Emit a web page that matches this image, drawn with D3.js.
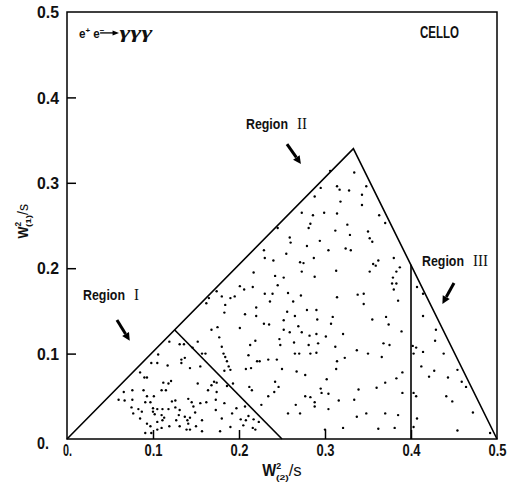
<!DOCTYPE html>
<html><head><meta charset="utf-8">
<script src="https://cdn.jsdelivr.net/npm/d3@7/dist/d3.min.js"></script>
<style>
body{margin:0;background:#fff;}
svg{display:block;}
</style></head>
<body><svg id="c" width="513" height="489"></svg>
<script>
// ---- data ----
const xTicks = [0, 0.1, 0.2, 0.3, 0.4, 0.5];
const yTicks = [0, 0.1, 0.2, 0.3, 0.4, 0.5];
const tickLabel = v => v === 0 ? "0." : v.toFixed(1);
const boundary = [[0, 0], [0.333, 0.34], [0.5, 0]];
const cutRegionI = [[0.125, 0.128], [0.25, 0]];
const cutRegionIII = [[0.4, 0], [0.4, 0.204]];
const events = [
[0.119,0.114],[0.131,0.111],[0.136,0.111],[0.152,0.114],[0.146,0.107],[0.157,0.100],[0.161,0.100],[0.106,0.099],
[0.098,0.089],[0.105,0.089],[0.117,0.086],[0.133,0.093],[0.137,0.095],[0.133,0.089],[0.143,0.083],[0.155,0.085],
[0.085,0.078],[0.090,0.072],[0.093,0.072],[0.121,0.068],[0.112,0.066],[0.118,0.065],[0.152,0.065],[0.171,0.067],
[0.174,0.066],[0.168,0.063],[0.164,0.057],[0.174,0.055],[0.066,0.055],[0.076,0.057],[0.089,0.057],[0.110,0.057],
[0.115,0.057],[0.093,0.050],[0.101,0.050],[0.060,0.046],[0.067,0.045],[0.076,0.046],[0.091,0.043],[0.097,0.043],
[0.126,0.045],[0.122,0.044],[0.141,0.047],[0.145,0.043],[0.162,0.043],[0.155,0.042],[0.173,0.046],[0.075,0.037],
[0.083,0.035],[0.100,0.036],[0.105,0.035],[0.100,0.032],[0.111,0.035],[0.118,0.035],[0.126,0.037],[0.131,0.034],
[0.147,0.038],[0.149,0.031],[0.077,0.030],[0.087,0.032],[0.102,0.029],[0.110,0.028],[0.113,0.025],[0.130,0.028],
[0.137,0.026],[0.143,0.025],[0.140,0.022],[0.085,0.024],[0.093,0.018],[0.097,0.015],[0.105,0.020],[0.111,0.022],
[0.119,0.015],[0.127,0.022],[0.131,0.015],[0.141,0.018],[0.150,0.015],[0.105,0.011],[0.110,0.013],[0.139,0.011],
[0.143,0.011],[0.157,0.022],[0.157,0.009],[0.173,0.034],[0.091,0.007],[0.098,0.007],
[0.184,0.157],[0.183,0.148],[0.220,0.154],[0.236,0.161],[0.263,0.161],[0.207,0.146],[0.220,0.144],[0.256,0.149],
[0.265,0.144],[0.279,0.151],[0.290,0.151],[0.309,0.143],[0.291,0.140],[0.229,0.135],[0.235,0.134],[0.252,0.139],
[0.269,0.132],[0.307,0.135],[0.175,0.131],[0.168,0.128],[0.201,0.130],[0.252,0.128],[0.259,0.125],[0.273,0.125],
[0.282,0.121],[0.290,0.123],[0.301,0.120],[0.321,0.123],[0.177,0.119],[0.247,0.117],[0.219,0.115],[0.213,0.110],
[0.264,0.113],[0.248,0.110],[0.281,0.110],[0.292,0.112],[0.312,0.108],[0.180,0.108],[0.182,0.100],[0.184,0.096],
[0.186,0.091],[0.211,0.098],[0.221,0.091],[0.224,0.091],[0.234,0.093],[0.244,0.093],[0.265,0.100],[0.270,0.100],
[0.283,0.100],[0.290,0.101],[0.337,0.104],[0.188,0.085],[0.190,0.081],[0.208,0.082],[0.214,0.083],[0.250,0.082],
[0.267,0.079],[0.277,0.075],[0.314,0.091],[0.323,0.095],[0.313,0.082],[0.183,0.080],[0.186,0.062],[0.193,0.065],
[0.212,0.061],[0.215,0.057],[0.242,0.067],[0.246,0.061],[0.302,0.070],[0.241,0.055],[0.234,0.050],[0.226,0.040],
[0.207,0.038],[0.197,0.036],[0.183,0.042],[0.277,0.050],[0.283,0.049],[0.288,0.043],[0.295,0.059],[0.296,0.054],
[0.304,0.053],[0.316,0.045],[0.334,0.046],[0.339,0.058],[0.266,0.040],[0.257,0.030],[0.271,0.030],[0.288,0.038],
[0.304,0.035],[0.180,0.024],[0.192,0.030],[0.202,0.023],[0.208,0.022],[0.211,0.027],[0.217,0.023],[0.223,0.020],
[0.216,0.013],[0.219,0.011],[0.205,0.016],[0.190,0.014],[0.178,0.009],[0.337,0.026],[0.321,0.013],[0.300,0.011],
[0.295,0.294],[0.314,0.296],[0.317,0.292],[0.328,0.291],[0.343,0.286],[0.288,0.284],[0.318,0.278],[0.343,0.274],
[0.273,0.265],[0.286,0.262],[0.299,0.265],[0.314,0.264],[0.363,0.262],[0.283,0.252],[0.281,0.247],[0.326,0.251],
[0.350,0.243],[0.312,0.244],[0.329,0.239],[0.370,0.253],[0.245,0.247],[0.259,0.236],[0.260,0.230],[0.279,0.226],
[0.294,0.232],[0.304,0.221],[0.324,0.223],[0.330,0.221],[0.355,0.231],[0.229,0.221],[0.230,0.212],[0.240,0.209],
[0.255,0.217],[0.271,0.207],[0.275,0.206],[0.287,0.212],[0.362,0.209],[0.380,0.212],[0.359,0.203],[0.273,0.196],
[0.288,0.190],[0.313,0.197],[0.352,0.196],[0.383,0.196],[0.387,0.201],[0.217,0.195],[0.242,0.191],[0.252,0.189],
[0.245,0.180],[0.216,0.178],[0.201,0.179],[0.206,0.175],[0.379,0.189],[0.378,0.182],[0.383,0.182],[0.380,0.175],
[0.174,0.173],[0.165,0.165],[0.180,0.167],[0.190,0.165],[0.195,0.167],[0.230,0.170],[0.239,0.170],[0.257,0.171],
[0.272,0.168],[0.314,0.166],[0.338,0.169],[0.385,0.162],[0.345,0.158],[0.162,0.159],
[0.306,0.314],[0.334,0.312],[0.348,0.296],
[0.371,0.143],[0.374,0.134],[0.389,0.126],[0.368,0.112],[0.375,0.110],[0.366,0.096],[0.390,0.078],[0.383,0.071],
[0.370,0.066],[0.390,0.054],[0.370,0.030],[0.385,0.028],[0.381,0.013],
[0.352,0.235],[0.356,0.205],[0.345,0.170],[0.355,0.140],[0.350,0.100],[0.360,0.060],[0.348,0.030],[0.362,0.012],
[0.407,0.178],[0.414,0.170],[0.414,0.144],[0.429,0.128],[0.402,0.109],[0.406,0.107],[0.403,0.100],[0.414,0.102],
[0.428,0.115],[0.438,0.100],[0.454,0.081],[0.412,0.085],[0.427,0.080],[0.421,0.073],[0.443,0.072],[0.459,0.067],
[0.464,0.061],[0.403,0.054],[0.406,0.050],[0.441,0.050],[0.448,0.044],[0.472,0.031],[0.407,0.024],[0.403,0.014],
[0.454,0.010],[0.492,0.007]
];

// ---- drawing ----
const svg = d3.select("#c");
const x = d3.scaleLinear().domain([0, 0.5]).range([67, 497]);
const y = d3.scaleLinear().domain([0, 0.5]).range([439, 12]);
const sans = '"Liberation Sans",Arial,"Noto Sans",sans-serif';
const serif = '"Liberation Serif","DejaVu Serif",serif';
const ink = "#111";

// frame
svg.append("rect").attr("x", x(0)).attr("y", y(0.5))
  .attr("width", x(0.5) - x(0)).attr("height", y(0) - y(0.5))
  .attr("fill", "none").attr("stroke", "#000").attr("stroke-width", 1.5);

// x axis
const gx = svg.append("g").attr("transform", `translate(0,${y(0)})`)
  .call(d3.axisBottom(x).tickValues(xTicks).tickFormat(tickLabel).tickSize(-9).tickPadding(6));
gx.select(".domain").remove();
gx.selectAll(".tick line").attr("stroke", "#000").attr("stroke-width", 1.5)
  .filter(d => d === 0 || d === 0.5).remove();
gx.selectAll(".tick text").attr("font-family", sans).attr("font-size", 16)
  .attr("font-weight", "bold").attr("fill", ink)
  .attr("textLength", d => d === 0 ? 9 : 18).attr("lengthAdjust", "spacingAndGlyphs");

// y axis
const gy = svg.append("g").attr("transform", `translate(${x(0)},0)`)
  .call(d3.axisLeft(y).tickValues(yTicks).tickFormat(tickLabel).tickSize(-9).tickPadding(9));
gy.select(".domain").remove();
gy.selectAll(".tick line").attr("stroke", "#000").attr("stroke-width", 1.5)
  .filter(d => d === 0 || d === 0.5).remove();
gy.selectAll(".tick text").attr("font-family", sans).attr("font-size", 17)
  .attr("font-weight", "bold").attr("fill", ink)
  .attr("text-anchor", "start").attr("x", -30)
  .attr("dy", d => d === 0 ? "0.55em" : "0.34em")
  .attr("textLength", d => d === 0 ? 12 : 22).attr("lengthAdjust", "spacingAndGlyphs");

// boundary lines
const line = d3.line().x(d => x(d[0])).y(d => y(d[1]));
[boundary, cutRegionI, cutRegionIII].forEach(p => {
  svg.append("path").attr("d", line(p)).attr("fill", "none")
    .attr("stroke", "#000").attr("stroke-width", 1.6).attr("stroke-linejoin", "miter");
});

// events
svg.append("g").selectAll("circle").data(events).join("circle")
  .attr("cx", d => x(d[0])).attr("cy", d => y(d[1])).attr("r", 1.2).attr("fill", "#000");

// axis titles
function wTitle(g, sub, size, wW, sW) {
  const t = g.append("text").attr("font-family", sans).attr("font-weight", "bold")
    .attr("font-size", size).attr("fill", ink).attr("text-anchor", "middle");
  t.append("tspan").attr("textLength", wW).attr("lengthAdjust", "spacingAndGlyphs").text("W");
  t.append("tspan").attr("font-size", size * 0.55).attr("dy", -size * 0.45).text("2");
  t.append("tspan").attr("font-size", size * 0.5).attr("dx", -size * 0.33).attr("dy", size * 0.68)
    .attr("textLength", size * 0.8).attr("lengthAdjust", "spacingAndGlyphs").text("(" + sub + ")");
  t.append("tspan").attr("dy", -size * 0.23).attr("font-weight", "normal")
    .attr("textLength", sW).attr("lengthAdjust", "spacingAndGlyphs").text("/s");
  return t;
}
wTitle(svg.append("g").attr("transform", `translate(${x(0.25)},476)`), "2", 16, 14, 13);
wTitle(svg.append("g").attr("transform", `translate(28,${y(0.255)}) rotate(-90)`), "1", 15, 12, 11);

// annotations
function label(xd, yd, num, numW) {
  const X = x(xd), Y = y(yd);
  svg.append("text").attr("x", X).attr("y", Y)
    .attr("font-family", sans).attr("font-weight", "bold").attr("font-size", 14).attr("fill", ink)
    .attr("textLength", 42).attr("lengthAdjust", "spacingAndGlyphs").text("Region");
  svg.append("text").attr("x", X + 51).attr("y", Y)
    .attr("font-family", serif).attr("font-size", 16).attr("fill", ink)
    .attr("textLength", numW).attr("lengthAdjust", "spacingAndGlyphs").text(num);
}
function arrow(x0, y0, x1, y1) {
  const X0 = x(x0), Y0 = y(y0), X1 = x(x1), Y1 = y(y1);
  const ang = Math.atan2(Y1 - Y0, X1 - X0), L = 8, W = 4;
  const bx = X1 - L * Math.cos(ang), by = Y1 - L * Math.sin(ang);
  svg.append("line").attr("x1", X0).attr("y1", Y0).attr("x2", bx).attr("y2", by)
    .attr("stroke", "#000").attr("stroke-width", 3);
  const px = -Math.sin(ang) * W, py = Math.cos(ang) * W;
  svg.append("path").attr("d", `M${X1},${Y1}L${bx + px},${by + py}L${bx - px},${by - py}Z`).attr("fill", "#000");
}
label(0.0186, 0.1628, "I", 5);
arrow(0.0581, 0.1393, 0.0730, 0.1150);
label(0.2081, 0.3630, "II", 10);
arrow(0.2558, 0.3454, 0.2720, 0.3220);
label(0.4128, 0.2026, "III", 15);
arrow(0.4500, 0.1827, 0.4365, 0.1580);

// reaction & experiment labels
const r = svg.append("text").attr("x", x(0.0140)).attr("y", y(0.4700))
  .attr("font-family", sans).attr("font-weight", "bold").attr("font-size", 13).attr("fill", ink);
r.append("tspan").attr("textLength", 6.5).attr("lengthAdjust", "spacingAndGlyphs").text("e");
r.append("tspan").attr("font-size", 8).attr("dy", -5).text("+");
r.append("tspan").attr("dy", 5).attr("dx", 3).attr("textLength", 6.5).attr("lengthAdjust", "spacingAndGlyphs").text("e");
r.append("tspan").attr("font-size", 8).attr("dy", -5).text("\u2212");
const ay = y(0.4755);
svg.append("line").attr("x1", x(0.0385)).attr("y1", ay).attr("x2", x(0.0550)).attr("y2", ay)
  .attr("stroke", "#000").attr("stroke-width", 1.3);
svg.append("path").attr("d", `M${x(0.0605)},${ay}L${x(0.0530)},${ay - 2.5}L${x(0.0530)},${ay + 2.5}Z`).attr("fill", "#000");
svg.append("text").attr("x", x(0.0610)).attr("y", y(0.4700))
  .attr("font-family", serif).attr("font-style", "italic").attr("font-weight", "bold")
  .attr("font-size", 17).attr("fill", ink)
  .attr("textLength", 33).attr("lengthAdjust", "spacingAndGlyphs").text("γγγ");
svg.append("text").attr("x", x(0.4105)).attr("y", y(0.4700))
  .attr("font-family", sans).attr("font-weight", "bold").attr("font-size", 16).attr("fill", ink)
  .attr("textLength", 39).attr("lengthAdjust", "spacingAndGlyphs").text("CELLO");
</script></body></html>
